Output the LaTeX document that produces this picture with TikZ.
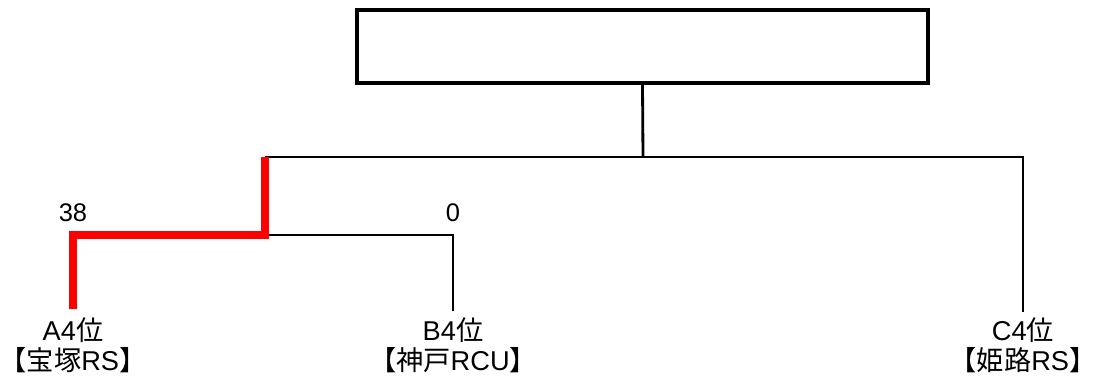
\documentclass[tikz,border=0pt]{standalone}
\usepackage{fontspec}
\setmainfont{Liberation Sans}
\newfontfamily\cjk{Noto Sans CJK JP}
\usetikzlibrary{calc}

\tikzset{
  team/.style={anchor=north, inner sep=0pt, align=center, font=\fontsize{15.5}{17.5}\selectfont},
  score/.style={inner sep=0pt, font=\fontsize{14.5}{18}\selectfont},
  line/.style={line width=1.6pt},
  win/.style={line width=4pt, color=red},
}

\begin{document}
\begin{tikzpicture}[x=0.02cm, y=-0.02cm]
          \useasboundingbox (0,0) rectangle (1095,382);

          \node[draw, line width=1.9pt, minimum width=11.42cm, minimum height=1.46cm, inner sep=0pt] (final) at (642.5,46.5) {};

          \node[team] (teamA) at (73,317) {A4{\cjk 位}\\{\cjk 【宝塚}RS{\cjk 】}};
          \node[team] (teamB) at (453,317) {B4{\cjk 位}\\{\cjk 【神戸}RCU{\cjk 】}};
          \node[team] (teamC) at (1023,317) {C4{\cjk 位}\\{\cjk 【姫路}RS{\cjk 】}};

          \node[score] (scoreA) at (73,213) {38};
          \node[score] (scoreB) at (453,213) {0};

          \coordinate (semi) at (265,157);
          \coordinate (jAB) at (265,235);
          \coordinate (top) at (643,157);
          \coordinate (right) at (1023,157);

          \draw[line] (final.south) -- (top);
          \draw[line] (semi) -- (right) -- ($(teamC.north)+(0,-5)$);
          \draw[line] (jAB) -| ($(teamB.north)+(0,-6)$);
          \draw[win] ($(teamA.north)+(0,-8)$) |- (jAB) -- (semi);

        \end{tikzpicture}
\end{document}
